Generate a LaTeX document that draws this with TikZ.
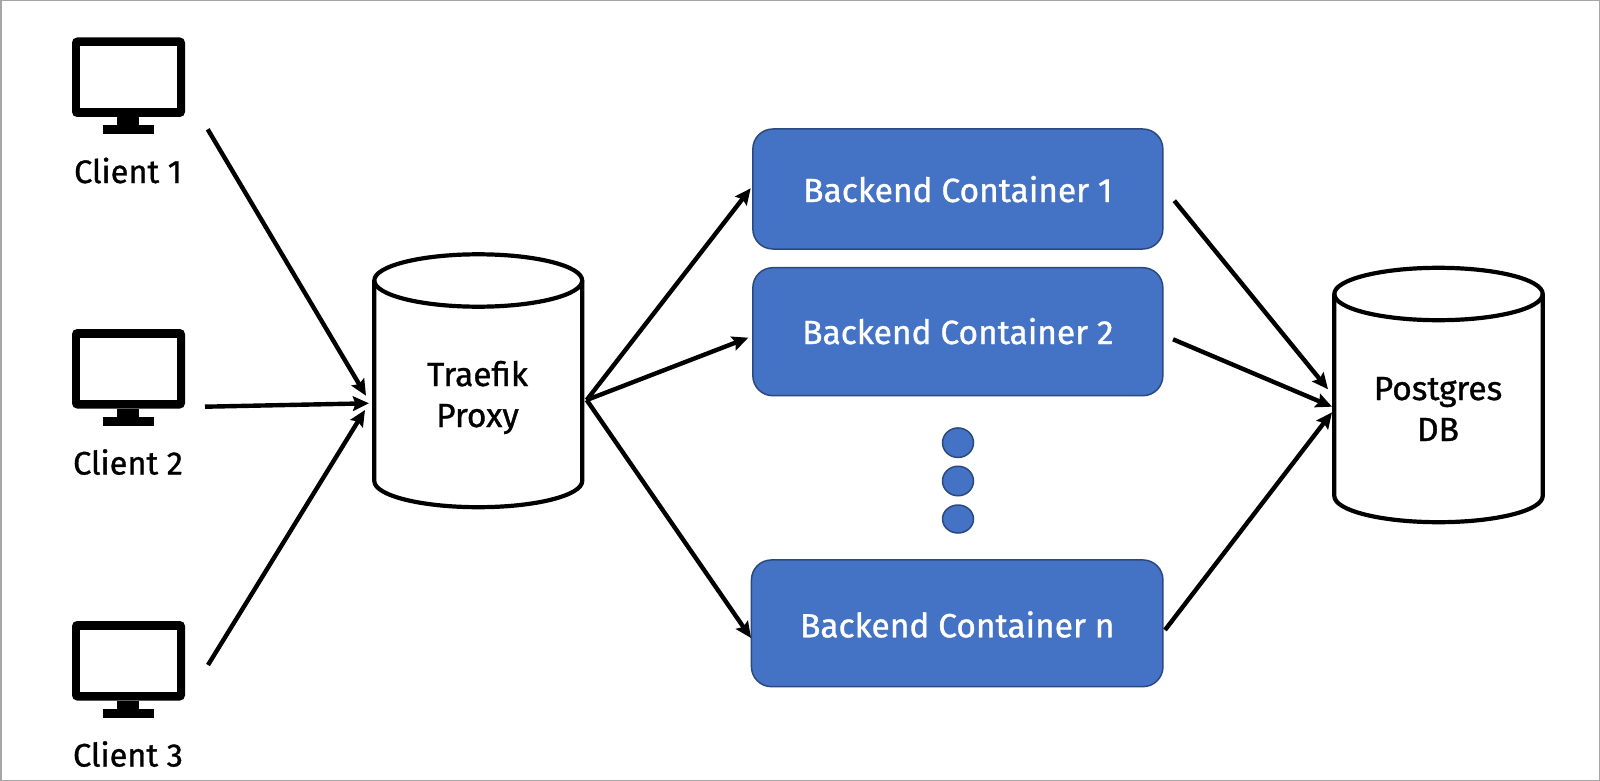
\documentclass[tikz,border=0pt]{standalone}
\usepackage{fontspec}
\setmainfont{Fira Sans}[FakeBold=1]
\usetikzlibrary{arrows.meta,shapes.geometric}
\definecolor{boxfill}{HTML}{4472C4}
\definecolor{boxline}{HTML}{2A4A7F}
\definecolor{frameline}{HTML}{A6A6A6}
\tikzset{
  x=1pt,y=-1pt,
  link/.style={line width=4.4pt,-{Stealth[length=16pt,width=14.5pt,inset=2.5pt]}},
  dbline/.style={draw=black,fill=white,line width=4.2pt,line join=round},
  backend/.style={draw=boxline,fill=boxfill,line width=1.5pt,rounded corners=20pt,inner sep=0pt,text=white,font=\fontsize{33.5}{40}\selectfont,text depth=0pt},
  dot/.style={ellipse,draw=boxline,fill=boxfill,line width=1.5pt,inner sep=0pt},
  caption/.style={anchor=base,font=\fontsize{33.5}{40}\selectfont,text=black,inner sep=0pt},
  clientcap/.style={caption,font=\fontsize{32.5}{40}\selectfont},
  monscreen/.style={fill=black,rounded corners=5pt,inner sep=0pt,minimum width=113pt,minimum height=79.5pt},
}
% #1 name, #2 left x, #3 right x, #4 ellipse-centre y, #5 side-end y, #6 radius y
\newcommand{\dbdrum}[6]{%
  \path[dbline] (#2,#4) -- (#2,#5) arc[start angle=180,end angle=360,x radius={(#3-#2)/2*1pt},y radius=#6 pt] -- (#3,#4) arc[start angle=0,end angle=180,x radius={(#3-#2)/2*1pt},y radius=#6 pt] -- cycle;
  \draw[dbline,fill=none] (#2,#4) arc[start angle=180,end angle=360,x radius={(#3-#2)/2*1pt},y radius=#6 pt];
  \coordinate (#1) at ({(#2+#3)/2},{(#4+#5)/2});}
\newcommand{\monitorat}[3]{%
  \begin{scope}[shift={(0,#1)}]
    \node (#2) [monscreen] at (128.5,77.25) {};
    \fill[white] (80.3,46) rectangle (176.7,108);
    \fill (117,117) rectangle (139,126);
    \fill (103,125.5) rectangle (154,134);
    \node (#2lbl) [clientcap] at (128,183) {#3};
  \end{scope}}
\begin{document}
\begin{tikzpicture}
\useasboundingbox (0,0) rectangle (1600,781);
\fill[white] (0,0) rectangle (1600,781);
\draw[frameline,line width=1.5pt] (0.75,0.75) rectangle (1599.25,780.25);

\monitorat{0}{mon1}{Client 1}
\monitorat{291.5}{mon2}{Client 2}
\monitorat{583.5}{mon3}{Client 3}

\dbdrum{proxy}{374.3}{582.2}{280.5}{481}{26.2}
\node (proxylbla) [caption] at (477.5,386) {Traefik};
\node (proxylblb) [caption] at (477.5,427) {Proxy};

\dbdrum{db}{1334.3}{1542.7}{294}{496}{26.2}
\node (dblbla) [caption] at (1438,400) {Postgres};
\node (dblblb) [caption] at (1438,441) {DB};

\node (b1) [backend,minimum width=410pt,minimum height=120pt,text height=26pt] at (957.85,189) {Backend Container 1};
\node (b2) [backend,minimum width=410pt,minimum height=128pt,text height=24.6pt] at (957.85,331.7) {Backend Container 2};
\node (bn) [backend,minimum width=411.5pt,minimum height=126.7pt,text height=28pt] at (957.2,623.3) {Backend Container n};

\node (d1) [dot,minimum width=31pt,minimum height=29.5pt] at (958,442.7) {};
\node (d2) [dot,minimum width=31pt,minimum height=29.5pt] at (958,481) {};
\node (d3) [dot,minimum width=31pt,minimum height=28pt] at (958,519) {};

\coordinate (c1out) at (207.7,129.3);
\coordinate (c2out) at (205,406.7);
\coordinate (c3out) at (208,665);
\coordinate (pin1) at (366,395.7);
\coordinate (pin2) at (369,403.3);
\coordinate (pin3) at (365,410);
\coordinate (pout) at (586.7,400);
\coordinate (b1in) at (750.7,188.3);
\coordinate (b2in) at (748.3,337.7);
\coordinate (bnin) at (751,638);
\coordinate (b1out) at (1174.3,200.7);
\coordinate (b2out) at (1173,339.3);
\coordinate (bnout) at (1165,630);
\coordinate (din1) at (1328,389.3);
\coordinate (din2) at (1332,406.7);
\coordinate (din3) at (1332,412.3);

\draw[link] (c1out) -- (pin1);
\draw[link] (c2out) -- (pin2);
\draw[link] (c3out) -- (pin3);
\draw[link] (pout) -- (b1in);
\draw[link] (pout) -- (b2in);
\draw[link] (pout) -- (bnin);
\draw[link] (b1out) -- (din1);
\draw[link] (b2out) -- (din2);
\draw[link] (bnout) -- (din3);
\end{tikzpicture}
\end{document}
